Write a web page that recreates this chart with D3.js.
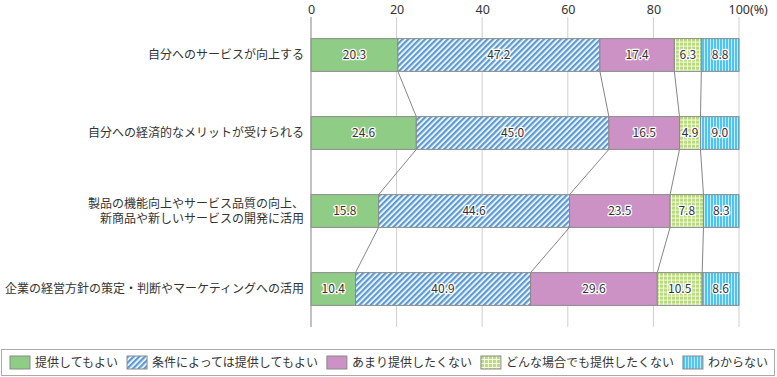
<!DOCTYPE html>
<html lang="ja">
<head>
<meta charset="UTF-8">
<title>データ提供の意向</title>
<script src="https://d3js.org/d3.v7.min.js"></script>
<style>
  body { margin: 0; background: #fff; }
  svg text { font-family: "Noto Sans CJK JP", "Noto Sans", sans-serif; fill: #333; }
  .tick text { font-size: 12.5px; font-family: "Noto Sans", sans-serif; }
  .cat { font-size: 12px; }
  .val { font-size: 12px; }
  .legend text { font-size: 12px; }
</style>
</head>
<body>
<svg id="chart" width="777" height="377"></svg>
<script>
  const categories = [
    ["自分へのサービスが向上する"],
    ["自分への経済的なメリットが受けられる"],
    ["製品の機能向上やサービス品質の向上、", "新商品や新しいサービスの開発に活用"],
    ["企業の経営方針の策定・判断やマーケティングへの活用"]
  ];
  const seriesNames = ["提供してもよい", "条件によっては提供してもよい", "あまり提供したくない", "どんな場合でも提供したくない", "わからない"];
  const values = [
    [20.3, 47.2, 17.4, 6.3, 8.8],
    [24.6, 45.0, 16.5, 4.9, 9.0],
    [15.8, 44.6, 23.5, 7.8, 8.3],
    [10.4, 40.9, 29.6, 10.5, 8.6]
  ];
  const tickValues = [0, 20, 40, 60, 80, 100];

  const svg = d3.select("#chart");
  const defs = svg.append("defs");

  // patterns
  const p1 = defs.append("pattern").attr("id", "pat1").attr("patternUnits", "userSpaceOnUse")
    .attr("width", 4).attr("height", 4).attr("patternTransform", "rotate(45)");
  p1.append("rect").attr("width", 4).attr("height", 4).attr("fill", "#ffffff");
  p1.append("rect").attr("width", 2.3).attr("height", 4).attr("fill", "#5b9bd5");

  const p3 = defs.append("pattern").attr("id", "pat3").attr("patternUnits", "userSpaceOnUse")
    .attr("width", 4).attr("height", 4);
  p3.append("rect").attr("width", 4).attr("height", 4).attr("fill", "#f3f9e6");
  p3.append("rect").attr("width", 3).attr("height", 3).attr("fill", "#b9db7c");

  const p4 = defs.append("pattern").attr("id", "pat4").attr("patternUnits", "userSpaceOnUse")
    .attr("width", 3).attr("height", 3);
  p4.append("rect").attr("width", 3).attr("height", 3).attr("fill", "#c2ebfb");
  p4.append("rect").attr("width", 2).attr("height", 3).attr("fill", "#4fc3f2");

  const fills = ["#8fcc85", "url(#pat1)", "#cc91c5", "url(#pat3)", "url(#pat4)"];

  const x = d3.scaleLinear().domain([0, 100]).range([311, 739]);
  const y = d3.scaleBand().domain(d3.range(categories.length)).range([16, 328])
    .paddingInner(0.58).paddingOuter(0.29);

  // grid
  svg.append("g").selectAll("line").data(tickValues.slice(1)).join("line")
    .attr("x1", d => x(d)).attr("x2", d => x(d))
    .attr("y1", 17).attr("y2", 327)
    .attr("stroke", "#cfcfcf").attr("stroke-width", 1);

  const axis = svg.append("g").attr("transform", "translate(0,17)")
    .call(d3.axisTop(x).tickValues(tickValues).tickSize(0).tickPadding(0)
      .tickFormat(d => d === 100 ? "100(%)" : d));
  axis.select(".domain").remove();
  axis.selectAll(".tick text").attr("y", -3.5).attr("dy", 0);
  axis.selectAll(".tick").filter(d => d === 100).select("text")
    .attr("text-anchor", "start").attr("dx", -11);

  // stacked data
  const stacked = values.map(row => {
    let acc = 0;
    return row.map(v => { const s = { x0: acc, x1: acc + v, v }; acc += v; return s; });
  });

  // connector lines
  const links = [];
  for (let i = 0; i < stacked.length - 1; i++) {
    for (let k = 0; k < 4; k++) {
      links.push({ xa: stacked[i][k].x1, ya: y(i) + y.bandwidth(), xb: stacked[i + 1][k].x1, yb: y(i + 1) });
    }
  }
  svg.append("g").selectAll("line").data(links).join("line")
    .attr("x1", d => x(d.xa)).attr("y1", d => d.ya)
    .attr("x2", d => x(d.xb)).attr("y2", d => d.yb)
    .attr("stroke", "#666").attr("stroke-width", 0.8);

  // bars
  const rows = svg.append("g").selectAll("g").data(stacked).join("g")
    .attr("transform", (d, i) => `translate(0,${y(i)})`);

  rows.selectAll("rect").data(d => d).join("rect")
    .attr("x", d => x(d.x0))
    .attr("width", d => x(d.x1) - x(d.x0))
    .attr("height", y.bandwidth())
    .attr("fill", (d, k) => fills[k])
    .attr("stroke", "#8a8a8a").attr("stroke-width", 1);

  rows.selectAll("text").data(d => d).join("text")
    .attr("class", "val")
    .attr("x", d => (x(d.x0) + x(d.x1)) / 2)
    .attr("y", y.bandwidth() / 2)
    .attr("dy", "0.36em")
    .attr("text-anchor", "middle")
    .attr("stroke", "#fff").attr("stroke-width", 2.5).attr("paint-order", "stroke")
    .attr("stroke-linejoin", "round")
    .text(d => d.v.toFixed(1));

  // axis line at 0
  svg.append("line").attr("x1", x(0)).attr("x2", x(0)).attr("y1", 17).attr("y2", 327)
    .attr("stroke", "#999").attr("stroke-width", 1.2);

  // category labels
  const cats = svg.append("g").selectAll("text").data(categories).join("text")
    .attr("class", "cat")
    .attr("text-anchor", "end")
    .attr("y", (d, i) => y(i) + y.bandwidth() / 2);
  cats.selectAll("tspan").data(d => d.map((t, j) => ({ t, j, n: d.length }))).join("tspan")
    .attr("x", 304)
    .attr("dy", d => d.j === 0 ? `${0.36 - (d.n - 1) * 0.65}em` : "1.3em")
    .text(d => d.t);

  // legend
  const lg = svg.append("g").attr("class", "legend");
  lg.append("rect").attr("x", 1.5).attr("y", 349.5).attr("width", 773).attr("height", 26)
    .attr("fill", "#fff").attr("stroke", "#aaa").attr("stroke-width", 1);
  let lx = 10;
  seriesNames.forEach((name, k) => {
    const item = lg.append("g").attr("transform", `translate(${lx},356)`);
    item.append("rect").attr("width", 20).attr("height", 13)
      .attr("fill", fills[k]).attr("stroke", "#8a8a8a").attr("stroke-width", 1);
    const t = item.append("text").attr("x", 25).attr("y", 6.5).attr("dy", "0.36em").text(name);
    lx += 25 + t.node().getComputedTextLength() + 9;
  });
</script>
</body>
</html>
